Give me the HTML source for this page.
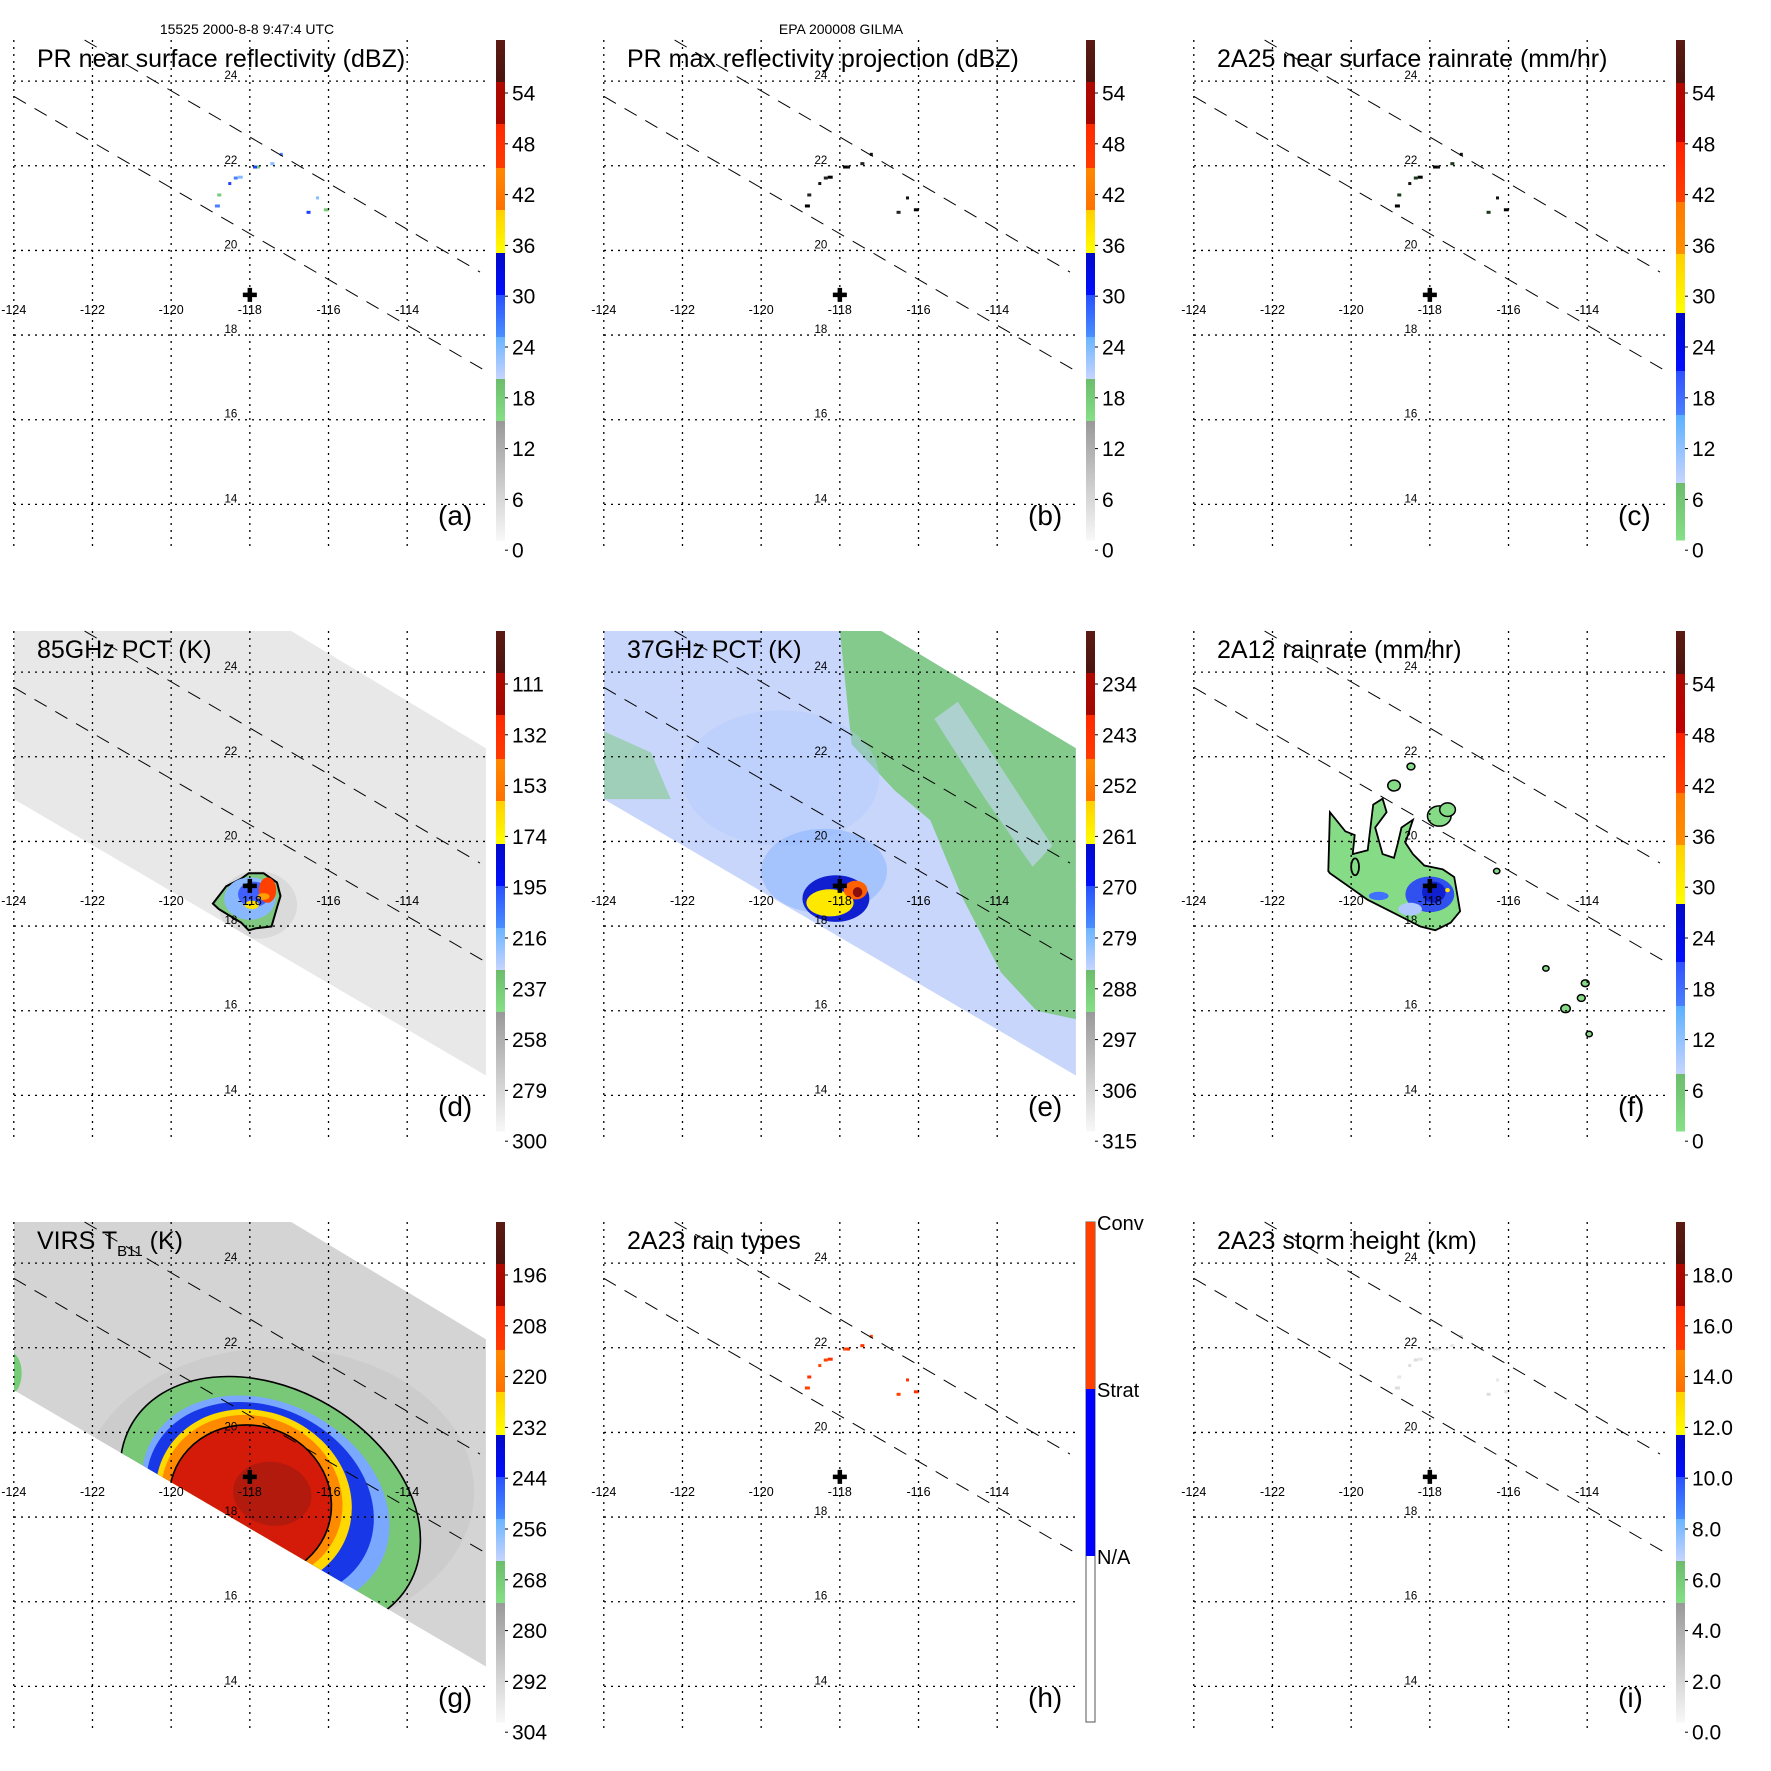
<!DOCTYPE html>
<html><head><meta charset="utf-8"><style>
html,body{margin:0;padding:0;background:#fff}
svg{display:block}
text{font-family:"Liberation Sans",Arial,sans-serif}
</style></head>
<body>
<svg id="fig" xmlns="http://www.w3.org/2000/svg" width="1771" height="1771" viewBox="0 0 1771 1771">
<rect x="0" y="0" width="1771" height="1771" fill="#fff"/>
<text x="247" y="34" font-size="14" text-anchor="middle">15525 2000-8-8 9:47:4 UTC</text>
<text x="841" y="34" font-size="14" text-anchor="middle">EPA 200008 GILMA</text>
</svg>
<script>
// ---------- data ----------
const lonTicks = [-124,-122,-120,-118,-116,-114];
const latTicks = [24,22,20,18,16,14];
const stormCenter = [-118.0, 18.95];
const swathUpper = [[-117.0,25.0],[-112.0,22.2]];
const swathLower = [[-124.0,21.0],[-112.0,14.47]];
const edgeUpper = [[-122.2,24.97],[-112.15,19.49]];
const edgeLower = [[-124.0,23.64],[-112.0,17.15]];
const prCellLon = [-117.20,-117.44,-117.88,-117.78,-118.37,-118.27,-118.51,-118.79,-118.85,-116.28,-116.52,-116.08];
const prCellLat = [22.27,22.05,21.97,21.97,21.71,21.73,21.58,21.31,21.05,21.24,20.90,20.96];
const labelsRefl = ["54","48","42","36","30","24","18","12","6","0"];
const labels85 = ["111","132","153","174","195","216","237","258","279","300"];
const labels37 = ["234","243","252","261","270","279","288","297","306","315"];
const labelsVirs = ["196","208","220","232","244","256","268","280","292","304"];
const labelsHeight = ["18.0","16.0","14.0","12.0","10.0","8.0","6.0","4.0","2.0","0.0"];
const labelsRain = ["54","48","42","36","30","24","18","12","6","0"];
const pct85BlobLon = [-118.94,-118.60,-118.22,-118.03,-117.65,-117.31,-117.22,-117.31,-117.45,-117.84,-118.03,-118.22,-118.79];
const pct85BlobLat = [18.53,18.94,19.12,19.25,19.25,19.03,18.71,18.44,17.99,17.95,17.90,18.08,18.40];
const rain12Lon = [-120.58,-120.54,-120.15,-119.91,-119.96,-119.58,-119.44,-119.20,-119.10,-119.39,-119.20,-118.91,-118.81,-118.72,-118.43,-118.62,-118.43,-118.14,-117.67,-117.38,-117.33,-117.23,-117.47,-117.86,-118.24,-119.00,-119.58,-120.54];
const rain12Lat = [19.30,20.69,20.24,20.15,19.70,19.79,20.87,21.01,20.69,20.33,19.70,19.61,19.97,20.33,20.51,19.97,19.70,19.43,19.34,19.16,18.89,18.35,18.08,17.90,17.99,18.35,18.62,19.25];
const rain12CellLon = [-118.91,-118.48,-117.76,-117.55,-116.30,-115.05,-114.05,-114.15,-114.55,-113.95];
const rain12CellLat = [21.32,21.77,20.60,20.75,19.30,17.0,16.65,16.30,16.05,15.45];
const rain12CellSize = [0.16,0.1,0.3,0.2,0.08,0.08,0.1,0.1,0.12,0.08];
// VIRS cold-cloud rings: center lon, lat, radius lon-deg, radius lat-deg, rotation
const virsRingLon = [-117.48,-117.6,-117.74,-117.9,-117.95,-117.99,-117.43];
const virsRingLat = [18.30,18.34,18.38,18.42,18.44,18.36,18.55];
const virsRingRx = [4.07,3.30,3.0,2.54,2.34,2.08,1.0];
const virsRingRy = [2.72,2.36,2.22,2.08,1.94,1.8,0.75];
const virsRingRot = [30,28,26,24,22,20,10];
// 37 GHz green (warm) region
const green37Lon = [-118.0,-117.7,-116.6,-115.7,-114.9,-113.9,-113.0,-112.0,-112.0];
const green37Lat = [25.0,22.3,21.2,20.5,18.7,16.9,16.0,15.8,25.0];
const green37LeftLon = [-124,-122.8,-122.3,-124];
const green37LeftLat = [22.6,22.1,21.0,21.0];
const pale37Lon = [-115.6,-114.3,-113.1,-112.6,-113.8,-115.0];
const pale37Lat = [22.9,21.0,19.4,19.9,21.6,23.3];

// ---------- helpers ----------
const NS = "http://www.w3.org/2000/svg";
const svg = document.getElementById("fig");
function mk(tag, attrs, parent){const e=document.createElementNS(NS,tag);for(const k in attrs)e.setAttribute(k,attrs[k]);(parent||svg).appendChild(e);return e;}
const DX=590, DY=591;
function proj(ox,oy){return {X:l=>ox+13.8+(l+124)*39.34, Y:la=>oy+81.1+(24-la)*42.33};}
function polyPts(p,lons,lats){return lons.map((l,i)=>p.X(l).toFixed(1)+","+p.Y(lats[i]).toFixed(1)).join(" ");}

const defs = mk("defs",{});
const palA = [[0,42,"#5c1a12","#4a1410"],[42,84,"#b00800","#a00800"],[84,128,"#ff2a00","#ff3a00"],[128,170,"#ff8800","#ff7000"],[170,213,"#ffd000","#ffff00"],[213,255,"#0008c8","#0010ff"],[255,297,"#2850ff","#4a90ff"],[297,339,"#6ab4ff","#c8d4ff"],[339,381,"#6cbc6c","#86e086"],[381,500,"#999999","#f8f8f8"]];
const palC = [[0,43,"#5c1a12","#4a1410"],[43,102,"#b00800","#c00000"],[102,162,"#ff2000","#ff4000"],[162,214,"#ff7a00","#ff9000"],[214,273,"#ffd000","#ffff00"],[273,331,"#0008c8","#0010ff"],[331,375,"#3050ff","#4a80ff"],[375,443,"#5ab0ff","#c8d4ff"],[443,500,"#6cbc6c","#86e086"]];
let gid=0;
function colorbar(g,ox,oy,pal,labels){
  const cb = mk("g",{},g);
  
  
  pal.forEach(s=>{
    const id="cg"+(gid++);
    const lg=mk("linearGradient",{id:id,x1:0,y1:0,x2:0,y2:1},defs);
    mk("stop",{offset:0,"stop-color":s[2]},lg);mk("stop",{offset:1,"stop-color":s[3]},lg);
    mk("rect",{x:ox+496,y:oy+40+s[0],width:9,height:s[1]-s[0]+0.5,fill:"url(#"+id+")"},cb);
  });
  labels.forEach((t,i)=>{
    const cy=oy+93+i*50.8;
    mk("line",{x1:ox+505,y1:cy,x2:ox+508,y2:cy,stroke:"#000","stroke-width":1},cb);
    const tx=mk("text",{x:ox+512,y:cy+7.5,"font-size":21},cb);tx.textContent=t;
    
    
  });
}
function panel(col,row,title,letter,cbPal,cbLabels,draw){
  const ox=col*DX, oy=row*DY, p=proj(ox,oy);
  const g=mk("g",{});
  
  
  const cid="clip"+letter;
  const cp=mk("clipPath",{id:cid},defs);
  mk("rect",{x:ox+14,y:oy+40,width:472,height:507},cp);
  const content=mk("g",{"clip-path":"url(#"+cid+")"},g);
  
  
  if(draw) draw(content,p,ox,oy);
  lonTicks.forEach(l=>{
    const ln=mk("line",{x1:p.X(l),y1:oy+40,x2:p.X(l),y2:oy+547,stroke:"#000","stroke-width":1.3,"stroke-dasharray":"2,5"},g);
    
    
    const t=mk("text",{x:p.X(l),y:oy+314,"font-size":12.5,"text-anchor":"middle"},g);t.textContent=l;
    
    
  });
  latTicks.forEach(la=>{
    const ln=mk("line",{x1:ox+14,y1:p.Y(la),x2:ox+486,y2:p.Y(la),stroke:"#000","stroke-width":1.3,"stroke-dasharray":"2,5"},g);
    
    
    const t=mk("text",{x:p.X(-118)-19,y:p.Y(la)-2,"font-size":11.5,"text-anchor":"middle"},g);t.textContent=la;
    
    
  });
  [edgeUpper,edgeLower].forEach(e=>{
    const ln=mk("line",{x1:p.X(e[0][0]),y1:p.Y(e[0][1]),x2:p.X(e[1][0]),y2:p.Y(e[1][1]),stroke:"#000","stroke-width":1,"stroke-dasharray":"14,10"},g);
    
    
  });
  const cx=p.X(stormCenter[0]), cy=p.Y(stormCenter[1]);
  const cr=mk("path",{d:`M${cx-7},${cy}H${cx+7}M${cx},${cy-7}V${cy+7}`,stroke:"#000","stroke-width":4.5},g);
  
  
  const tt=mk("text",{x:ox+37,y:oy+67,"font-size":25},g);
  if(typeof title==="object"){tt.textContent=title.a;const ts=mk("tspan",{"font-size":15,dy:7},tt);ts.textContent=title.s;const t2=mk("tspan",{"font-size":25,dy:-7},tt);t2.textContent=title.b;}
  else tt.textContent=title;
  
  
  const lt=mk("text",{x:ox+438,y:oy+525,"font-size":28},g);lt.textContent="("+letter+")";
  
  
  if(cbPal) colorbar(g,ox,oy,cbPal,cbLabels);
  return {g,p,ox,oy};
}
function swathPts(){return [[-124,26],[swathUpper[0][0],26],[swathUpper[0][0],swathUpper[0][1]],swathUpper[1],swathLower[1],swathLower[0]];}
function swath(c,p,fill){
  const poly=mk("polygon",{points:swathPts().map(q=>p.X(q[0])+","+p.Y(q[1])).join(" "),fill:fill},c);
  
  
}
function swathClip(p,id){
  const cp=mk("clipPath",{id:id},defs);
  mk("polygon",{points:swathPts().map(q=>p.X(q[0])+","+p.Y(q[1])).join(" ")},cp);
}
function cells(c,p,colors,sz){
  prCellLon.forEach((l,i)=>{
    const r=mk("rect",{x:p.X(l)-sz/2,y:p.Y(prCellLat[i])-sz/2,width:sz+(i%3),height:sz,fill:colors[i%colors.length]},c);
    
    
  });
}
function ell(c,p,lon,lat,rx,ry,fill,extra){
  return mk("ellipse",Object.assign({cx:p.X(lon),cy:p.Y(lat),rx:rx*39.34,ry:ry*42.33,fill:fill},extra||{}),c);
}

// ---------- panels ----------
panel(0,0,"PR near surface reflectivity (dBZ)","a",palA,labelsRefl,(c,p)=>{cells(c,p,["#4a80ff","#88bbff","#2040ff","#77cc77"],3);});
panel(1,0,"PR max reflectivity projection (dBZ)","b",palA,labelsRefl,(c,p)=>{cells(c,p,["#111","#222","#000"],3);});
panel(2,0,"2A25 near surface rainrate (mm/hr)","c",palC,labelsRain,(c,p)=>{cells(c,p,["#111","#1a3a1a","#000"],3);});

panel(0,1,"85GHz PCT (K)","d",palA,labels85,(c,p)=>{
  swath(c,p,"#e8e8e8");
  swathClip(p,"swd");
  const h=mk("g",{"clip-path":"url(#swd)"},c);
  ell(h,p,-117.8,18.5,1.0,0.8,"#c0c0c0",{opacity:0.35});
  const b=mk("polygon",{points:polyPts(p,pct85BlobLon,pct85BlobLat),fill:"#80c880",stroke:"#000","stroke-width":2},h);
  
  
  ell(h,p,-118.0,18.65,0.65,0.5,"#8ab8ff");
  ell(h,p,-117.9,18.75,0.4,0.3,"#4060ff");
  ell(h,p,-117.55,18.85,0.22,0.3,"#ff4000");
  ell(h,p,-117.65,18.7,0.15,0.08,"#ffa000");
  ell(h,p,-117.95,18.5,0.18,0.1,"#ffe000");
});
panel(1,1,"37GHz PCT (K)","e",palA,labels37,(c,p)=>{
  swath(c,p,"#c8d6fb");
  swathClip(p,"swe");
  const h=mk("g",{"clip-path":"url(#swe)"},c);
  const gr=mk("polygon",{points:polyPts(p,green37Lon,green37Lat),fill:"#78c878",opacity:0.85},h);
  
  
  mk("polygon",{points:polyPts(p,pale37Lon,pale37Lat),fill:"#c8d6fb",opacity:0.6},h);
  mk("polygon",{points:polyPts(p,green37LeftLon,green37LeftLat),fill:"#78c878",opacity:0.5},h);
  ell(h,p,-119.5,21.5,2.5,1.6,"#b0c8ff",{opacity:0.4});
  ell(h,p,-118.4,19.3,1.6,1.0,"#88b4ff",{opacity:0.55});
  ell(h,p,-118.1,18.65,0.85,0.55,"#1020d0");
  ell(h,p,-118.25,18.55,0.6,0.32,"#ffe800");
  ell(h,p,-117.6,18.85,0.3,0.22,"#ff6000");
  ell(h,p,-117.55,18.8,0.12,0.12,"#8a1010");
});
panel(2,1,"2A12 rainrate (mm/hr)","f",palC,labelsRain,(c,p)=>{
  const b=mk("polygon",{points:polyPts(p,rain12Lon,rain12Lat),fill:"#86dc86",stroke:"#000","stroke-width":1.8},c);
  
  
  ell(c,p,-118.0,18.75,0.62,0.42,"#3050f0");
  ell(c,p,-117.9,18.8,0.3,0.25,"#1020d0");
  ell(c,p,-119.3,18.71,0.25,0.1,"#4070ff");
  ell(c,p,-118.5,18.4,0.3,0.15,"#b0c8ff");
  ell(c,p,-117.55,18.85,0.06,0.05,"#ffe000");
  ell(c,p,-119.9,19.4,0.1,0.2,"none",{stroke:"#000","stroke-width":1.8});
  rain12CellLon.forEach((l,i)=>{
    const e=ell(c,p,l,rain12CellLat[i],rain12CellSize[i],rain12CellSize[i]*0.8,"#86dc86",{stroke:"#000","stroke-width":1.5});
    
    
  });
});

panel(0,2,{a:"VIRS T",s:"B11",b:" (K)"},"g",palA,labelsVirs,(c,p)=>{
  swath(c,p,"#d4d4d4");
  swathClip(p,"swg");
  const h=mk("g",{"clip-path":"url(#swg)"},c);
  ell(h,p,-117.3,18.6,5.0,3.4,"#c4c4c4",{opacity:0.5});
  ell(h,p,-124.1,21.4,0.3,0.5,"#77cc77");
  const fills=["#78c878","#7aa8ff","#1838e8","#ffd800","#ff8a00","#d41a08","#9a1a10"];
  virsRingLon.forEach((l,i)=>{
    const cx=p.X(l), cy=p.Y(virsRingLat[i]);
    const e=mk("ellipse",{cx:cx,cy:cy,rx:virsRingRx[i]*39.34,ry:virsRingRy[i]*42.33,fill:fills[i],transform:`rotate(${virsRingRot[i]} ${cx} ${cy})`},h);
    if(i===0||i===5){e.setAttribute("stroke","#000");e.setAttribute("stroke-width","1.6");}
    if(i===6){e.setAttribute("opacity","0.6");}
    
    
  });
});
panel(1,2,"2A23 rain types","h",null,null,(c,p)=>{cells(c,p,["#ff4400","#ff3300"],3);});
(function(){
  const ox=DX, oy=2*DY;
  const g=mk("g",{});
  
  
  mk("rect",{x:ox+496,y:oy+40,width:9,height:500,fill:"#fff",stroke:"#555","stroke-width":1},g);
  mk("rect",{x:ox+496,y:oy+40,width:9,height:167,fill:"#ff4000"},g);
  mk("rect",{x:ox+496,y:oy+207,width:9,height:167,fill:"#0000ff"},g);
  [["Conv",40],["Strat",207],["N/A",374]].forEach(q=>{
    const t=mk("text",{x:ox+507,y:oy+q[1]+8,"font-size":20},g);t.textContent=q[0];
    
    
  });
})();
panel(2,2,"2A23 storm height (km)","i",palA,labelsHeight,(c,p)=>{cells(c,p,["#dddddd","#e8e8e8"],3);});
</script>
</body></html>
